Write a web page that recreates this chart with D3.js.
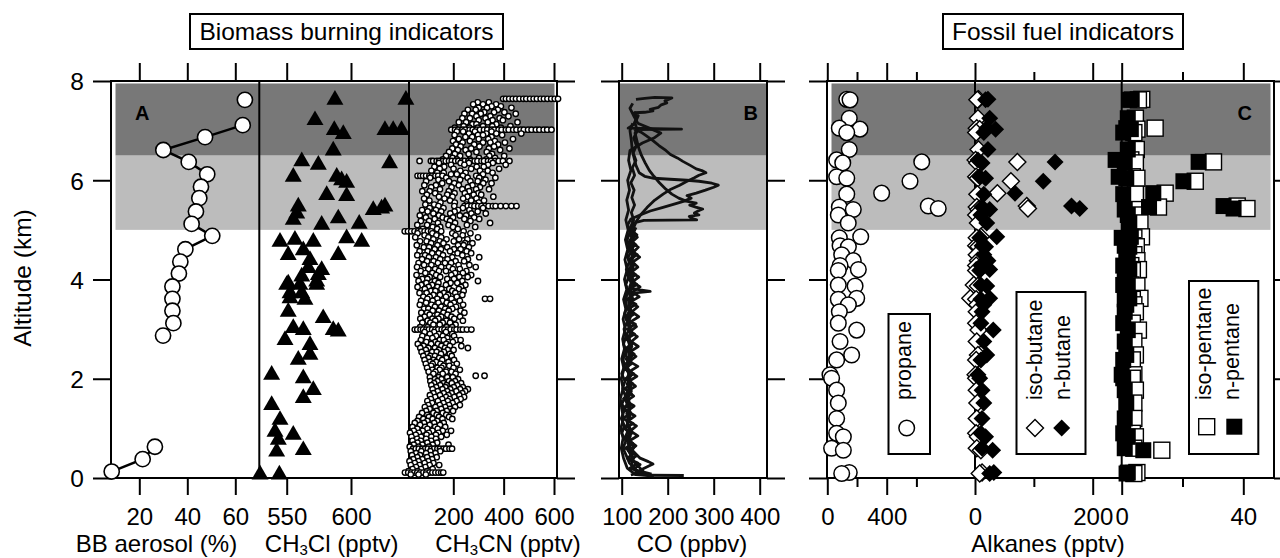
<!DOCTYPE html>
<html lang="en">
<head>
<meta charset="utf-8">
<title>Biomass burning and fossil fuel indicators</title>
<script src="https://d3js.org/d3.v7.min.js"></script>
<style>
  body { margin: 0; background: #fff; }
</style>
</head>
<body>
<script>
// ---------------- data ----------------
// A: BB aerosol fraction (%), null = gap in the line
var bbAlt = [7.62, null, 7.11, 6.87, 6.61, 6.37, 6.12, 5.87, 5.64, 5.37, 5.12, 4.88, 4.61, 4.36, 4.12, 3.86, 3.61, 3.37, 3.12, 2.87, null, 0.63, 0.38, 0.13];
var bbVal = [64, null, 63.1, 47.4, 30, 40.6, 48.3, 45.7, 45, 43.6, 41.8, 50.4, 39.2, 37.1, 36.5, 33.8, 33.8, 33.8, 34.2, 29.9, null, 26.5, 21.4, 8.5];

// A: CH3Cl (pptv)
var clAlt = [7.62, 7.62, 7.21, 7.01, 6.93, 7.01, 7.01, 7.01, 6.6, 6.34, 6.38, 6.31, 6.07, 6.07, 6.0, 5.95, 5.70, 5.68, 5.47, 5.33, 5.2, 5.4, 5.43, 5.47, 5.23, 5.10, 5.12,
  4.76, 4.80, 4.76, 4.83, 4.76, 4.49, 4.59, 4.49, 4.39, 4.23, 4.19, 4.06, 4.09, 3.92, 3.89, 3.96, 3.72, 3.72, 3.59, 3.89, 3.89, 3.62, 3.35, 3.22, 2.98, 2.95, 3.02, 2.98,
  2.78, 2.68, 2.48, 2.38, 2.08, 2.01, 1.77, 1.61, 1.47, 1.17, 0.93, 0.87, 0.77, 0.56, 0.53, 0.07, 0.07];
var clVal = [587.5, 642.7, 572, 587, 594, 626.4, 632.8, 639.3, 586.2, 630, 561.7, 574.6, 555.1, 588.9, 592.7, 596.6, 581.1, 596.6, 559, 557.8, 555.1, 617.3, 623.8, 626.4, 590.1, 577.2, 606.4,
  544.8, 556.4, 570.7, 596.6, 608.3, 551.2, 562.9, 590.1, 568.1, 566.8, 577.2, 561.7, 574.6, 551.2, 560.3, 573.3, 552.6, 561.7, 564.2, 550, 573.3, 552.6, 551.2, 578.4, 586.2, 590.1, 555.1, 562.9,
  548.7, 568.1, 568.1, 559, 538.3, 562.9, 570.7, 562.9, 538.3, 544.8, 540.9, 555.1, 543.5, 562.9, 542.2, 529.3, 544.3];

// A: CH3CN (pptv), rows of [altitude, values at that altitude]
var cnRows = [
  [7.64, [398, 409, 422, 436, 449, 463, 478, 490, 505, 519, 532, 547, 560, 574, 589, 603, 616]],
  [7.57, [297, 341]],
  [7.53, [279, 318, 370]],
  [7.49, [352, 389]],
  [7.46, [301, 334, 431]],
  [7.42, [258, 289, 377]],
  [7.37, [323, 362, 403]],
  [7.34, [244, 275, 309, 448]],
  [7.29, [292, 347, 419]],
  [7.25, [236, 266, 328, 384]],
  [7.21, [301, 356, 397]],
  [7.17, [222, 251, 337, 455]],
  [7.13, [276, 292, 371]],
  [7.09, [241, 318, 355, 427]],
  [7.06, [206, 264, 297, 389]],
  [7.02, [192, 207, 219, 236, 248, 265, 277, 293, 306, 322, 335, 352, 363, 380, 392, 409, 420, 438, 451, 467, 480, 497, 511, 528, 542, 559, 573, 590]],
  [6.98, [214, 239, 286, 352]],
  [6.94, [262, 331, 371, 470]],
  [6.91, [205, 298, 318, 394]],
  [6.87, [248, 275, 352]],
  [6.83, [222, 301, 339, 437]],
  [6.79, [199, 266, 365]],
  [6.76, [237, 318, 347, 405]],
  [6.72, [211, 283, 378]],
  [6.68, [229, 304, 362]],
  [6.64, [196, 271, 341, 423]],
  [6.61, [218, 249, 386]],
  [6.57, [183, 292, 333]],
  [6.53, [206, 261, 354]],
  [6.49, [171, 227, 343, 402]],
  [6.45, [197, 302, 366]],
  [6.42, [158, 214, 266, 331]],
  [6.39, [66, 111, 120, 134, 144, 159, 170, 183, 194, 208, 220, 235, 245, 260, 270, 285, 296, 312, 322, 338, 350, 367, 380, 397, 423]],
  [6.35, [143, 229, 262, 357]],
  [6.31, [191, 244, 338, 408]],
  [6.27, [125, 164, 293, 321]],
  [6.23, [146, 201, 271, 382]],
  [6.19, [113, 228, 306, 337]],
  [6.15, [136, 162, 249, 356]],
  [6.12, [191, 214, 318]],
  [6.09, [58, 69, 80, 92, 105, 115, 129, 140, 157, 238, 291]],
  [6.05, [108, 172, 257, 303, 367]],
  [6.01, [141, 227, 328]],
  [5.98, [92, 183, 268, 297]],
  [5.94, [156, 204, 319, 352]],
  [5.90, [85, 131, 222, 276]],
  [5.86, [112, 193, 258, 306]],
  [5.82, [147, 236, 291, 342]],
  [5.78, [77, 106, 182, 263]],
  [5.74, [128, 205, 246, 299]],
  [5.71, [95, 176, 281, 311]],
  [5.67, [143, 197, 256, 359]],
  [5.63, [84, 165, 239, 292]],
  [5.59, [105, 187, 271, 322]],
  [5.55, [149, 206, 301]],
  [5.51, [89, 124, 252, 286]],
  [5.48, [141, 204, 244, 257, 272, 284, 299, 312, 328, 340, 357, 368, 388, 409, 431, 451]],
  [5.44, [106, 161, 238, 318]],
  [5.40, [76, 131, 219, 264]],
  [5.37, [98, 152, 205, 297]],
  [5.33, [121, 188, 272, 329]],
  [5.29, [67, 143, 226, 251]],
  [5.25, [91, 158, 199, 283]],
  [5.22, [126, 174, 244, 303]],
  [5.18, [71, 104, 187, 268]],
  [5.14, [139, 207, 346]],
  [5.10, [57, 96, 181, 254]],
  [5.06, [118, 148, 199, 287]],
  [5.02, [79, 136, 218]],
  [4.97, [7, 20, 33, 46, 60, 71, 86, 99, 112, 152, 241]],
  [4.93, [58, 117, 196, 268]],
  [4.89, [86, 133, 209, 237]],
  [4.85, [49, 101, 152, 298]],
  [4.81, [121, 173, 223, 256]],
  [4.77, [68, 94, 146, 202]],
  [4.73, [112, 161, 247, 276]],
  [4.69, [55, 137, 219, 241]],
  [4.65, [83, 104, 176, 262]],
  [4.61, [126, 151, 203, 229]],
  [4.57, [66, 98, 187, 253]],
  [4.53, [116, 142, 217, 271]],
  [4.49, [57, 88, 159, 236]],
  [4.45, [103, 131, 196, 303]],
  [4.41, [76, 148, 177, 258]],
  [4.37, [96, 122, 209, 243]],
  [4.33, [62, 139, 167, 191]],
  [4.29, [84, 113, 221, 264]],
  [4.25, [56, 152, 183, 289]],
  [4.21, [101, 128, 198, 226]],
  [4.17, [71, 143, 171, 252]],
  [4.13, [89, 117, 207, 238]],
  [4.09, [54, 132, 192, 271]],
  [4.05, [106, 148, 224, 257]],
  [4.01, [77, 97, 176, 203]],
  [3.97, [62, 127, 236, 298]],
  [3.93, [93, 141, 189, 216]],
  [3.89, [73, 116, 171, 248]],
  [3.85, [58, 102, 137, 231]],
  [3.81, [87, 153, 184, 222]],
  [3.77, [111, 129, 196, 241]],
  [3.73, [66, 94, 163, 208]],
  [3.69, [121, 147, 179, 236]],
  [3.65, [81, 106, 171, 214]],
  [3.61, [97, 136, 193, 326, 346]],
  [3.57, [72, 118, 157, 226]],
  [3.53, [92, 141, 174, 203]],
  [3.49, [67, 113, 189, 239]],
  [3.45, [127, 152, 211]],
  [3.41, [84, 101, 168, 196]],
  [3.37, [118, 143, 182, 229]],
  [3.33, [73, 96, 161, 244]],
  [3.29, [106, 137, 177]],
  [3.25, [86, 152, 193, 227]],
  [3.21, [69, 117, 141, 204]],
  [3.17, [98, 128, 172, 238]],
  [3.13, [77, 109, 158, 187]],
  [3.09, [121, 146, 209]],
  [3.04, [68, 97, 173, 196]],
  [2.99, [47, 57, 70, 80, 93, 103, 116, 129, 140, 154, 165, 179, 189, 204, 213, 228, 238, 254, 272]],
  [2.94, [86, 124, 171]],
  [2.90, [107, 143, 196]],
  [2.86, [77, 132, 158, 203]],
  [2.82, [96, 117, 176]],
  [2.78, [71, 146, 162, 211, 229]],
  [2.74, [93, 128, 181, 198]],
  [2.70, [59, 112, 139, 172]],
  [2.66, [82, 153, 186, 232]],
  [2.62, [69, 101, 127, 167, 258]],
  [2.58, [91, 143, 178, 201]],
  [2.54, [74, 116, 134, 163]],
  [2.50, [96, 151, 186]],
  [2.46, [81, 109, 127, 194]],
  [2.42, [101, 144, 172]],
  [2.38, [86, 121, 156, 203]],
  [2.34, [107, 132, 181]],
  [2.30, [91, 118, 149, 214]],
  [2.26, [112, 161, 184]],
  [2.22, [96, 137, 153, 201]],
  [2.18, [117, 146, 226]],
  [2.14, [102, 129, 171, 193]],
  [2.10, [121, 158, 209]],
  [2.06, [289, 324]],
  [2.03, [107, 141, 176, 198]],
  [1.99, [127, 153, 219]],
  [1.95, [109, 137, 183, 207]],
  [1.91, [124, 161, 194, 231]],
  [1.87, [113, 148, 173, 216]],
  [1.83, [132, 169, 202, 238]],
  [1.79, [118, 157, 188, 227, 258]],
  [1.75, [138, 176, 212, 247]],
  [1.71, [121, 162, 193, 236]],
  [1.67, [107, 147, 181, 224]],
  [1.63, [128, 171, 204, 243]],
  [1.59, [111, 156, 186, 229]],
  [1.55, [97, 139, 178, 213]],
  [1.51, [116, 161, 197]],
  [1.47, [101, 146, 183, 226]],
  [1.43, [87, 129, 168, 207]],
  [1.39, [106, 152, 187]],
  [1.35, [92, 134, 174, 199]],
  [1.31, [76, 121, 158]],
  [1.27, [97, 134, 172]],
  [1.23, [64, 103, 143, 183]],
  [1.19, [81, 118, 157, 196]],
  [1.15, [58, 97, 136]],
  [1.11, [47, 84, 124, 162]],
  [1.07, [68, 106, 147]],
  [1.03, [38, 88, 128, 168]],
  [0.99, [57, 97, 138]],
  [0.95, [43, 78, 117, 158, 191]],
  [0.91, [28, 63, 103, 141]],
  [0.87, [51, 94, 131, 174]],
  [0.83, [34, 72, 113, 152]],
  [0.79, [56, 92, 131]],
  [0.75, [38, 71, 112]],
  [0.71, [58, 97, 136]],
  [0.67, [43, 77, 118, 181]],
  [0.63, [27, 62, 103]],
  [0.59, [40, 51, 63, 77, 88, 99, 113, 124, 137, 147, 161, 171, 185, 195]],
  [0.54, [31, 73, 109, 148]],
  [0.50, [52, 92, 129]],
  [0.46, [36, 68, 111]],
  [0.42, [57, 96, 134]],
  [0.38, [41, 77, 116]],
  [0.34, [26, 62, 101]],
  [0.30, [47, 86, 121]],
  [0.26, [31, 66, 106, 144]],
  [0.22, [52, 89]],
  [0.18, [38, 72, 118]],
  [0.14, [22, 58, 96]],
  [0.11, [8, 21, 33, 45, 57, 69, 81, 93, 105, 117, 129, 141, 152, 160]],
  [0.07, [31, 62, 91]]
];

// B: CO (ppbv) flight profiles, [altitude, CO]
var co1 = [[0.06, 150], [0.15, 132], [0.28, 121], [0.4, 126], [0.55, 114], [0.7, 119], [0.85, 109], [1.0, 116], [1.15, 111], [1.3, 120], [1.45, 113], [1.6, 108], [1.75, 117], [1.9, 112], [2.05, 119], [2.2, 110], [2.35, 115], [2.5, 108], [2.65, 118], [2.8, 113], [2.95, 121], [3.1, 114], [3.25, 110], [3.4, 119], [3.55, 115], [3.7, 122], [3.85, 117], [4.0, 124], [4.15, 116], [4.3, 121], [4.45, 114], [4.6, 123], [4.75, 118], [4.9, 125], [5.05, 119], [5.2, 126], [5.35, 121], [5.5, 128], [5.65, 122], [5.8, 127], [5.95, 120], [6.1, 128], [6.25, 123], [6.4, 131], [6.55, 125], [6.7, 132], [6.85, 126], [7.0, 134], [7.15, 129], [7.3, 136], [7.36, 128], [7.37, 150], [7.4, 168], [7.43, 162], [7.47, 180], [7.52, 186], [7.56, 198], [7.6, 194], [7.66, 209], [7.67, 172], [7.65, 150], [7.63, 131]];
var co2 = [[0.08, 165], [0.12, 148], [0.22, 138], [0.35, 124], [0.5, 118], [0.62, 127], [0.78, 112], [0.95, 121], [1.1, 113], [1.25, 118], [1.4, 107], [1.55, 116], [1.7, 110], [1.85, 120], [2.0, 112], [2.15, 117], [2.3, 109], [2.45, 122], [2.6, 114], [2.75, 119], [2.9, 111], [3.05, 120], [3.2, 113], [3.35, 121], [3.5, 116], [3.62, 124], [3.72, 118], [3.76, 162], [3.79, 140], [3.82, 121], [3.95, 127], [4.1, 118], [4.25, 125], [4.4, 119], [4.55, 127], [4.7, 120], [4.85, 126], [5.0, 121], [5.15, 130], [5.3, 141], [5.45, 155], [5.6, 172], [5.72, 190], [5.82, 207], [5.9, 226], [5.97, 240], [6.05, 258], [6.1, 268], [6.15, 283], [6.19, 276], [6.23, 262], [6.3, 249], [6.38, 233], [6.45, 221], [6.52, 206], [6.6, 196], [6.7, 181], [6.8, 168], [6.9, 153], [6.97, 142], [7.02, 129], [7.03, 230], [7.05, 114], [7.12, 126], [7.25, 132], [7.38, 127]];
var co3 = [[0.05, 235], [0.055, 160], [0.09, 140], [0.18, 129], [0.3, 117], [0.45, 110], [0.6, 103], [0.75, 109], [0.9, 100], [1.05, 106], [1.2, 99], [1.35, 105], [1.5, 101], [1.65, 108], [1.8, 102], [1.95, 107], [2.1, 100], [2.25, 106], [2.4, 103], [2.55, 110], [2.7, 104], [2.85, 109], [3.0, 105], [3.15, 112], [3.3, 106], [3.45, 111], [3.6, 108], [3.75, 114], [3.9, 109], [4.05, 115], [4.2, 110], [4.35, 116], [4.5, 111], [4.65, 117], [4.8, 112], [4.95, 118], [5.1, 113], [5.22, 120], [5.3, 140], [5.38, 162], [5.45, 188], [5.52, 214], [5.58, 236], [5.64, 251], [5.69, 242], [5.74, 262], [5.8, 282], [5.86, 300], [5.9, 310], [5.94, 296], [5.98, 268], [6.0, 242], [6.02, 205], [6.04, 170], [6.08, 150], [6.15, 138], [6.3, 131], [6.45, 127], [6.6, 123], [6.8, 121], [7.0, 118], [7.15, 124]];
var co4 = [[0.1, 128], [0.2, 150], [0.28, 168], [0.33, 158], [0.4, 140], [0.55, 124], [0.7, 113], [0.85, 119], [1.0, 108], [1.15, 115], [1.3, 111], [1.45, 119], [1.6, 113], [1.75, 121], [1.9, 114], [2.05, 118], [2.2, 111], [2.35, 120], [2.5, 115], [2.65, 122], [2.8, 116], [2.95, 121], [3.1, 113], [3.25, 119], [3.4, 115], [3.55, 122], [3.7, 117], [3.85, 123], [4.0, 118], [4.15, 124], [4.3, 119], [4.45, 125], [4.6, 118], [4.75, 124], [4.9, 120], [5.05, 126], [5.15, 131], [5.19, 148], [5.2, 263], [5.23, 252], [5.27, 247], [5.3, 268], [5.34, 258], [5.38, 266], [5.42, 276], [5.46, 261], [5.5, 248], [5.54, 262], [5.58, 240], [5.64, 224], [5.72, 209], [5.82, 196], [5.95, 182], [6.08, 170], [6.2, 160], [6.35, 151], [6.5, 143], [6.65, 137], [6.8, 133], [6.95, 129], [7.05, 134]];
var co5 = [[0.04, 170], [0.07, 130], [0.2, 112], [0.4, 104], [0.6, 99], [0.8, 103], [1.0, 98], [1.2, 104], [1.4, 100], [1.6, 97], [1.8, 103], [2.0, 99], [2.2, 105], [2.4, 100], [2.6, 106], [2.8, 102], [3.0, 108], [3.2, 103], [3.4, 109], [3.6, 104], [3.8, 111], [4.0, 106], [4.2, 112], [4.4, 107], [4.6, 113], [4.8, 108], [5.0, 114], [5.2, 109], [5.4, 115], [5.6, 111], [5.8, 117], [6.0, 113], [6.2, 120], [6.4, 115], [6.6, 118], [6.75, 145], [6.85, 170], [6.95, 185], [7.05, 160], [7.15, 135], [7.3, 126], [7.45, 118], [7.55, 124]];
var co6 = [[0.06, 120], [0.12, 142], [0.2, 118], [0.3, 135], [0.4, 112], [0.5, 128], [0.6, 108], [0.7, 124], [0.8, 104], [0.9, 122], [1.0, 106], [1.1, 125], [1.2, 103], [1.3, 119], [1.4, 101], [1.5, 117], [1.6, 104], [1.7, 121], [1.8, 106], [1.9, 124], [2.0, 108], [2.1, 126], [2.2, 105], [2.3, 121], [2.4, 109], [2.5, 127], [2.6, 107], [2.7, 123], [2.8, 110], [2.9, 128], [3.0, 112], [3.1, 130], [3.2, 109], [3.3, 126], [3.4, 113], [3.5, 131], [3.6, 111], [3.7, 127], [3.8, 114], [3.9, 133], [4.0, 116], [4.1, 130], [4.2, 113], [4.3, 128], [4.4, 117], [4.5, 134], [4.6, 115], [4.7, 131], [4.8, 118], [4.9, 133], [5.0, 119], [5.1, 128], [5.2, 122]];
var co7 = [[0.09, 145], [0.18, 126], [0.27, 140], [0.36, 118], [0.45, 133], [0.55, 115], [0.65, 131], [0.75, 117], [0.85, 135], [0.95, 119], [1.05, 132], [1.15, 114], [1.25, 129], [1.35, 112], [1.45, 127], [1.55, 110], [1.65, 126], [1.75, 113], [1.85, 130], [1.95, 116], [2.05, 133], [2.15, 118], [2.25, 135], [2.35, 117], [2.45, 131], [2.55, 119], [2.65, 136], [2.75, 121], [2.85, 134], [2.95, 118], [3.05, 132], [3.15, 120], [3.25, 137], [3.35, 122], [3.45, 135], [3.55, 119], [3.65, 138], [3.75, 124], [3.85, 140], [3.95, 123], [4.05, 137], [4.15, 121], [4.25, 135], [4.35, 124], [4.45, 139], [4.55, 125], [4.65, 136], [4.75, 122], [4.85, 134], [4.95, 126], [5.05, 131]];

// C: canister samples (pptv)
var hcAlt = [7.63, 7.62, 7.25, 7.05, 7.03, 6.96, 6.62, 6.41, 6.37, 6.35, 6.07, 6.04, 5.98, 5.74, 5.72, 5.48, 5.43, 5.46, 5.41, 5.30, 5.14, 4.86, 4.84, 4.68, 4.66, 4.50, 4.38, 4.28, 4.20, 4.18, 3.89, 3.87, 3.62, 3.60, 3.49, 3.35, 3.12, 2.98, 2.75, 2.48, 2.38, 2.08, 2.01, 1.77, 1.51, 1.20, 0.90, 0.83, 0.60, 0.56, 0.11, 0.09];
var propane = [131, 153, 148, 81, 220, 131, 148, 63, 636, 104, 63, 131, 557, 366, 131, 680, 747, 81, 175, 74, 141, 225, 81, 86, 142, 97, 175, 86, 209, 74, 74, 187, 198, 74, 142, 81, 74, 198, 86, 164, 63, 18, 29, 63, 74, 63, 63, 108, 29, 108, 148, 97];
var isoButane = [6, 4, 5, 3, 8, 2, 6, 1, 72, 4, 2, 5, 61, 38, 4, 88, 90, 3, 6, 2, 5, 10, 3, 2, 6, 3, 5, 2, 7, 2, -2, 5, -8, 2, 4, 3, 2, 6, 3, 5, 2, 1, 2, 3, 4, 3, 2, 5, 3, 10, 12, 8];
var nButane = [22, 18, 25, 20, 35, 15, 22, 5, 136, 12, 8, 18, 116, 68, 15, 164, 178, 12, 25, 10, 20, 37, 8, 12, 18, 15, 22, 10, 25, 8, 10, 20, 25, 10, 15, 12, 10, 31, 15, 20, 10, 5, 8, 12, 15, 12, 10, 18, 12, 30, 32, 25];
var isoPentane = [6.6, 5.5, 4.5, 11.0, 5.0, 4.0, 4.8, 3.0, 30.2, 4.5, 3.5, 5.0, 24.2, 14.3, 4.5, 38.0, 41.2, 12.1, 4.0, 4.5, 6.0, 6.5, 4.0, 3.5, 4.8, 4.0, 5.0, 3.0, 5.5, 3.5, 3.0, 5.0, 6.0, 3.5, 4.0, 4.5, 3.5, 5.5, 4.0, 4.5, 3.5, 4.0, 3.5, 4.5, 4.0, 4.0, 3.5, 4.5, 4.0, 13.2, 5.0, 4.0];
var nPentane = [3.3, 2.5, 2.0, 1.5, 3.0, 0.5, 2.0, -2.0, 25.3, 1.0, -1.0, 1.5, 20.3, 10.4, 0.5, 33.5, 36.8, 9.0, 1.0, 2.0, 2.5, 3.0, 0.0, 1.0, 2.5, 1.5, 2.0, 0.5, 2.5, 1.0, 0.5, 2.0, 2.5, 1.0, 1.5, 1.0, 0.5, 2.0, 1.0, 1.5, 0.5, 0.0, 0.5, 1.0, 1.5, 1.0, 0.5, 2.0, 1.0, 7.1, 2.0, 1.6];

// shaded altitude layers (km)
var layerLow = [5.0, 6.5];
var layerHigh = [6.5, 7.95];

// ticks
var altTicks = [0, 2, 4, 6, 8];
var bbTicks = [20, 40, 60], clTicks = [550, 600], cnTicks = [200, 400, 600];
var coTicks = [100, 200, 300, 400];
var propTicks = [0, 400], propMinor = [200, 600];
var butTicks = [0, 200], butMinor = [100];
var pentTicks = [0, 40], pentMinor = [20];

// ---------------- drawing ----------------
var font = "'Liberation Sans', Arial, Helvetica, sans-serif";
var fs = 24;

var svg = d3.select("body").append("svg")
  .attr("width", 1280).attr("height", 558)
  .attr("font-family", font);

var y = d3.scaleLinear().domain([0, 8]).range([478, 81]);

var xBB = d3.scaleLinear().domain([20, 60]).range([139.3, 235.3]);
var xCl = d3.scaleLinear().domain([550, 600]).range([286.7, 351]);
var xCN = d3.scaleLinear().domain([200, 600]).range([453.3, 554]);
var xCO = d3.scaleLinear().domain([100, 400]).range([621.7, 759.7]);
var xProp = d3.scaleLinear().domain([0, 400]).range([827.3, 886.7]);
var xBut = d3.scaleLinear().domain([0, 200]).range([975, 1092.7]);
var xPent = d3.scaleLinear().domain([0, 40]).range([1121.7, 1243.3]);

var panels = [
  {x0: 111, x1: 557, s0: 115.5, s1: 554.5},
  {x0: 619, x1: 767, s0: 619, s1: 767},
  {x0: 827, x1: 1274, s0: 831.5, s1: 1270.5}
];

// shading
panels.forEach(function(p) {
  [[layerLow, "#bcbcbc"], [layerHigh, "#787878"]].forEach(function(l) {
    svg.append("rect")
      .attr("x", p.s0).attr("width", p.s1 - p.s0)
      .attr("y", y(l[0][1])).attr("height", y(l[0][0]) - y(l[0][1]))
      .attr("fill", l[1]);
  });
});

// frames
panels.forEach(function(p) {
  svg.append("rect")
    .attr("x", p.x0).attr("y", y(8))
    .attr("width", p.x1 - p.x0).attr("height", y(0) - y(8))
    .attr("fill", "none").attr("stroke", "#000").attr("stroke-width", 2);
});

// sub-axis dividers
[259.3, 409, xBut(0), xPent(0)].forEach(function(x) {
  svg.append("line")
    .attr("x1", x).attr("x2", x).attr("y1", y(8)).attr("y2", y(0))
    .attr("stroke", "#000").attr("stroke-width", 2);
});

function styleAxis(g) {
  g.attr("font-size", fs).attr("font-family", font);
  g.select(".domain").remove();
  g.selectAll("line").attr("stroke", "#000").attr("stroke-width", 2);
  g.selectAll("text").attr("fill", "#000");
  g.selectAll("text").filter(function() { return this.textContent === ""; }).remove();
  return g;
}

function xAxes(scale, ticks, minor) {
  var gb = svg.append("g").attr("transform", "translate(0," + y(0) + ")")
    .call(d3.axisBottom(scale).tickValues(ticks).tickSize(17).tickFormat(d3.format("d")));
  styleAxis(gb);
  gb.selectAll("text").attr("y", 47).attr("dy", null);
  styleAxis(svg.append("g").attr("transform", "translate(0," + y(8) + ")")
    .call(d3.axisTop(scale).tickValues(ticks).tickSize(18).tickFormat("")));
  if (minor) {
    styleAxis(svg.append("g").attr("transform", "translate(0," + y(0) + ")")
      .call(d3.axisBottom(scale).tickValues(minor).tickSize(9).tickFormat("")));
    styleAxis(svg.append("g").attr("transform", "translate(0," + y(8) + ")")
      .call(d3.axisTop(scale).tickValues(minor).tickSize(9).tickFormat("")));
  }
}

xAxes(xBB, bbTicks);
xAxes(xCl, clTicks);
xAxes(xCN, cnTicks);
xAxes(xCO, coTicks);
xAxes(xProp, propTicks, propMinor);
xAxes(xBut, butTicks, butMinor);
xAxes(xPent, pentTicks, pentMinor);

// y axes
var gy = svg.append("g").attr("transform", "translate(111,0)")
  .call(d3.axisLeft(y).tickValues(altTicks).tickSize(18).tickPadding(9));
styleAxis(gy);
gy.attr("font-size", 24.5);
gy.selectAll("text").attr("dy", "0.36em");

[[557, "r"], [619, "l"], [767, "r"], [827, "l"], [1274, "r"]].forEach(function(a) {
  var ax = a[1] == "r" ? d3.axisRight(y) : d3.axisLeft(y);
  styleAxis(svg.append("g").attr("transform", "translate(" + a[0] + ",0)")
    .call(ax.tickValues(altTicks).tickSize(18).tickFormat("")));
});

// ----- panel A data -----
var bbData = bbAlt.map(function(a, i) { return {alt: a, v: bbVal[i]}; });
svg.append("path")
  .datum(bbData)
  .attr("fill", "none").attr("stroke", "#000").attr("stroke-width", 2.5)
  .attr("d", d3.line().defined(function(d) { return d.alt != null; })
    .x(function(d) { return xBB(d.v); }).y(function(d) { return y(d.alt); }));
svg.selectAll("circle.bb")
  .data(bbData.filter(function(d) { return d.alt != null; }))
  .enter().append("circle")
  .attr("class", "bb")
  .attr("cx", function(d) { return xBB(d.v); })
  .attr("cy", function(d) { return y(d.alt); })
  .attr("r", 7.6)
  .attr("fill", "#fff").attr("stroke", "#000").attr("stroke-width", 1.6);

var tri = d3.symbol().type(d3.symbolTriangle).size(125);
svg.selectAll("path.cl")
  .data(clAlt.map(function(a, i) { return {alt: a, v: clVal[i]}; }))
  .enter().append("path")
  .attr("class", "cl")
  .attr("d", tri)
  .attr("transform", function(d) { return "translate(" + xCl(d.v) + "," + y(d.alt) + ")"; })
  .attr("fill", "#000");

var cnData = [];
cnRows.forEach(function(r) {
  r[1].forEach(function(v) { cnData.push({alt: r[0], v: v}); });
});
svg.selectAll("circle.cn")
  .data(cnData)
  .enter().append("circle")
  .attr("class", "cn")
  .attr("cx", function(d) { return xCN(d.v); })
  .attr("cy", function(d) { return y(d.alt); })
  .attr("r", 2.7)
  .attr("fill", "#fff").attr("stroke", "#000").attr("stroke-width", 1.4);

// ----- panel B data -----
var coLine = d3.line()
  .x(function(d) { return xCO(d[1]); })
  .y(function(d) { return y(d[0]); });
[co6, co7, co1, co2, co3, co4, co5].forEach(function(p) {
  svg.append("path")
    .datum(p)
    .attr("fill", "none").attr("stroke", "#111").attr("stroke-width", 2.8)
    .attr("stroke-linejoin", "round")
    .attr("d", coLine);
});

// ----- panel C data -----
var hc = hcAlt.map(function(a, i) {
  return {alt: a, prop: propane[i], ib: isoButane[i], nb: nButane[i], ip: isoPentane[i], np: nPentane[i]};
});
var diamond = "M0,-8.5L8.5,0L0,8.5L-8.5,0Z";

svg.selectAll("circle.prop")
  .data(hc).enter().append("circle")
  .attr("class", "prop")
  .attr("cx", function(d) { return xProp(d.prop); })
  .attr("cy", function(d) { return y(d.alt); })
  .attr("r", 7.8)
  .attr("fill", "#fff").attr("stroke", "#000").attr("stroke-width", 1.5);

svg.selectAll("path.ib")
  .data(hc).enter().append("path")
  .attr("class", "ib").attr("d", diamond)
  .attr("transform", function(d) { return "translate(" + xBut(d.ib) + "," + y(d.alt) + ")"; })
  .attr("fill", "#fff").attr("stroke", "#000").attr("stroke-width", 1.4);
svg.selectAll("path.nb")
  .data(hc).enter().append("path")
  .attr("class", "nb").attr("d", diamond)
  .attr("transform", function(d) { return "translate(" + xBut(d.nb) + "," + y(d.alt) + ")"; })
  .attr("fill", "#000");

svg.selectAll("rect.ip")
  .data(hc).enter().append("rect")
  .attr("class", "ip")
  .attr("x", function(d) { return xPent(d.ip) - 8; })
  .attr("y", function(d) { return y(d.alt) - 8; })
  .attr("width", 16).attr("height", 16)
  .attr("fill", "#fff").attr("stroke", "#000").attr("stroke-width", 1.4);
svg.selectAll("rect.np")
  .data(hc).enter().append("rect")
  .attr("class", "np")
  .attr("x", function(d) { return xPent(d.np) - 8; })
  .attr("y", function(d) { return y(d.alt) - 8; })
  .attr("width", 16).attr("height", 16)
  .attr("fill", "#000");

// ----- panel letters -----
svg.append("text").attr("x", 135).attr("y", 120).attr("font-size", 20).attr("font-weight", "bold").text("A");
svg.append("text").attr("x", 758).attr("y", 120).attr("font-size", 20).attr("font-weight", "bold").attr("text-anchor", "end").text("B");
svg.append("text").attr("x", 1252).attr("y", 120).attr("font-size", 20).attr("font-weight", "bold").attr("text-anchor", "end").text("C");

// ----- axis titles -----
function axisTitle(x, parts) {
  var t = svg.append("text").attr("x", x).attr("y", 552)
    .attr("font-size", fs).attr("text-anchor", "middle");
  parts.forEach(function(p) {
    if (p.sub) {
      t.append("tspan").attr("font-size", 15).attr("dy", 2.5).text(p.s);
    } else {
      t.append("tspan").attr("dy", p.after ? -2.5 : null).text(p.s);
    }
  });
}
axisTitle(156.5, [{s: "BB aerosol (%)"}]);
axisTitle(331.7, [{s: "CH"}, {s: "3", sub: true}, {s: "Cl (pptv)", after: true}]);
axisTitle(508, [{s: "CH"}, {s: "3", sub: true}, {s: "CN (pptv)", after: true}]);
axisTitle(692, [{s: "CO (ppbv)"}]);
axisTitle(1048, [{s: "Alkanes (pptv)"}]);

svg.append("text")
  .attr("transform", "translate(31,278) rotate(-90)")
  .attr("font-size", 24.5).attr("text-anchor", "middle")
  .text("Altitude (km)");

// ----- title boxes -----
[[190, 313, "Biomass burning indicators"], [943, 240, "Fossil fuel indicators"]].forEach(function(b) {
  svg.append("rect").attr("x", b[0]).attr("y", 14).attr("width", b[1]).attr("height", 35)
    .attr("fill", "#fff").attr("stroke", "#000").attr("stroke-width", 2);
  svg.append("text").attr("x", b[0] + b[1] / 2).attr("y", 40)
    .attr("font-size", 24.5).attr("text-anchor", "middle").text(b[2]);
});

// ----- legends -----
function legendBox(x0, x1, y0) {
  svg.append("rect").attr("x", x0).attr("y", y0).attr("width", x1 - x0).attr("height", 454 - y0)
    .attr("fill", "#fff").attr("stroke", "#000").attr("stroke-width", 2);
}
function vText(x, s) {
  svg.append("text").attr("transform", "translate(" + x + ",400) rotate(-90)")
    .attr("font-size", 21.5).text(s);
}
legendBox(888.5, 930, 314);
svg.append("circle").attr("cx", 906.7).attr("cy", 428).attr("r", 7.8)
  .attr("fill", "#fff").attr("stroke", "#000").attr("stroke-width", 1.5);
vText(911, "propane");

legendBox(1016.5, 1085.5, 292);
svg.append("path").attr("d", diamond).attr("transform", "translate(1035,428)")
  .attr("fill", "#fff").attr("stroke", "#000").attr("stroke-width", 1.4);
svg.append("path").attr("d", diamond).attr("transform", "translate(1061.7,428)").attr("fill", "#000");
vText(1042, "iso-butane");
vText(1070, "n-butane");

legendBox(1189, 1258.3, 281);
svg.append("rect").attr("x", 1198.7).attr("y", 418.7).attr("width", 16).attr("height", 16)
  .attr("fill", "#fff").attr("stroke", "#000").attr("stroke-width", 1.4);
svg.append("rect").attr("x", 1226.3).attr("y", 418.7).attr("width", 16).attr("height", 16).attr("fill", "#000");
vText(1211, "iso-pentane");
vText(1238.5, "n-pentane");
</script>
</body>
</html>
